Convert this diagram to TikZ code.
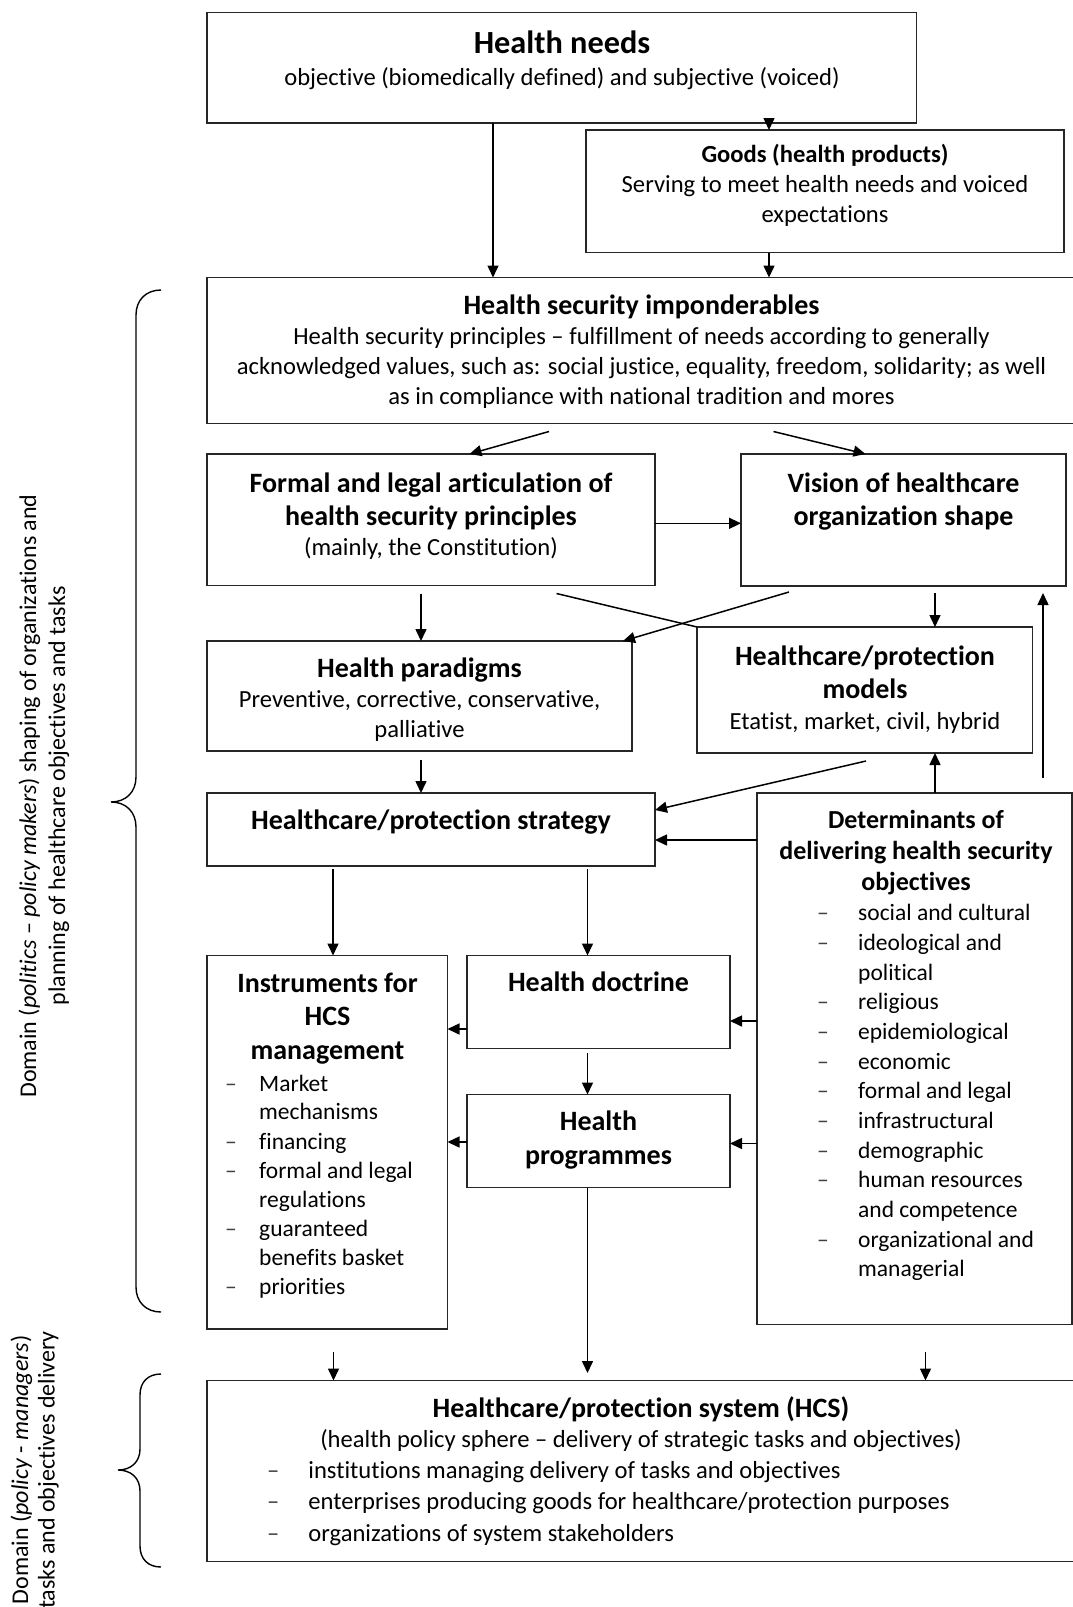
\documentclass[tikz,border=0pt]{standalone}
\usepackage{fontspec}
\setmainfont{Carlito}[Ligatures=NoCommon]
\usetikzlibrary{arrows.meta}
\begin{document}
\begin{tikzpicture}[x=1pt,y=-1pt,
  box/.style={draw=black!85, line width=1.8pt, inner sep=0pt, outer sep=0pt},
  arr/.style={draw=black, line width=1.5pt, -{Triangle[length=12pt,width=11pt]}},
  plain/.style={draw=black, line width=1.5pt},
  txt/.style={anchor=base, inner sep=0pt, font=\fontsize{24.6}{30}\selectfont},
  ttl/.style={anchor=base, inner sep=0pt, font=\fontsize{28}{34}\selectfont\bfseries},
  bul/.style={anchor=base west, inner sep=0pt, font=\fontsize{23.5}{29}\selectfont},
  dsh/.style={anchor=base, inner sep=0pt, font=\fontsize{23.5}{29}\selectfont, text=black!75},
  side/.style={anchor=base, inner sep=0pt, rotate=90, font=\fontsize{24}{30}\selectfont}]
\useasboundingbox (0,0) rectangle (1073,1607);
\fill[white] (0,0) rectangle (1073,1607);

% ---------- boxes ----------
\node[box, minimum width=709.5pt, minimum height=110.2pt] (needs) at (561.75,67.6) {};
\node[box, minimum width=478pt, minimum height=122.5pt] (goods) at (825,191.25) {};
\node[box, minimum width=869pt, minimum height=146pt] (sec) at (641.5,350.5) {};
\node[box, minimum width=448pt, minimum height=131.5pt] (formal) at (431,519.75) {};
\node[box, minimum width=325pt, minimum height=132pt] (vision) at (903.5,520) {};
\node[box, minimum width=425pt, minimum height=110pt] (parad) at (419.5,696) {};
\node[box, minimum width=335.5pt, minimum height=126pt] (models) at (864.75,690) {};
\node[box, minimum width=448pt, minimum height=73pt] (strat) at (431,829.5) {};
\node[box, minimum width=315pt, minimum height=531.5pt] (det) at (914.5,1058.75) {};
\node[box, minimum width=240.5pt, minimum height=373.5pt] (instr) at (327.25,1142.25) {};
\node[box, minimum width=263pt, minimum height=93pt] (doctr) at (598.5,1002) {};
\node[box, minimum width=263pt, minimum height=93pt] (progr) at (598.5,1141) {};
\node[box, minimum width=869pt, minimum height=181pt] (hcs) at (641.5,1471) {};

% ---------- texts ----------
\node[anchor=base, inner sep=0pt, font=\fontsize{32.3}{38}\selectfont\bfseries] (tneeds) at (562,53.5) {Health needs};
\node[txt] (tneeds2) at (562,85.5) {objective (biomedically defined) and subjective (voiced)};

\node[txt, font=\fontsize{24.6}{30}\selectfont\bfseries] (tgoods) at (825,162.5) {Goods (health products)};
\node[txt] (tgoods2) at (825,192) {Serving to meet health needs and voiced};
\node[txt] (tgoods3) at (825,222) {expectations};

\node[ttl] (tsec) at (641.5,314) {Health security imponderables};
\node[txt] (tsec2) at (641.5,344.5) {Health security principles \textendash{} fulfillment of needs according to generally};
\node[txt] (tsec3) at (641.5,374.5) {acknowledged values, such as: social justice, equality, freedom, solidarity; as well};
\node[txt] (tsec4) at (641.5,404.5) {as in compliance with national tradition and mores};

\node[ttl] (tform1) at (431,492) {Formal and legal articulation of};
\node[ttl] (tform2) at (431,525) {health security principles};
\node[txt] (tform3) at (431,555.5) {(mainly, the Constitution)};

\node[ttl] (tvis1) at (903.5,492) {Vision of healthcare};
\node[ttl] (tvis2) at (903.5,525) {organization shape};

\node[ttl] (tmod1) at (865,665) {Healthcare/protection};
\node[ttl] (tmod2) at (865,698) {models};
\node[txt] (tmod3) at (865,729) {Etatist, market, civil, hybrid};

\node[ttl] (tpar1) at (419.5,677.3) {Health paradigms};
\node[txt] (tpar2) at (419.5,707.7) {Preventive, corrective, conservative,};
\node[txt] (tpar3) at (419.5,737) {palliative};

\node[ttl] (tstrat) at (431,829.7) {Healthcare/protection strategy};

\node[anchor=base, inner sep=0pt, font=\fontsize{26}{32}\selectfont\bfseries] (tdet1) at (916,828) {Determinants of};
\node[anchor=base, inner sep=0pt, font=\fontsize{26}{32}\selectfont\bfseries] (tdet2) at (916,859.8) {delivering health security};
\node[anchor=base, inner sep=0pt, font=\fontsize{26}{32}\selectfont\bfseries] (tdet3) at (916,890.3) {objectives};

\node[dsh] (dd1) at (823,920.8) {\textendash};
\node[bul] (bd1) at (858,920.8) {social and cultural};
\node[dsh] (dd2) at (823,950.5) {\textendash};
\node[bul] (bd2) at (858,950.5) {ideological and};
\node[bul] (bd3) at (858,980.1) {political};
\node[dsh] (dd4) at (823,1009.8) {\textendash};
\node[bul] (bd4) at (858,1009.8) {religious};
\node[dsh] (dd5) at (823,1039.4) {\textendash};
\node[bul] (bd5) at (858,1039.4) {epidemiological};
\node[dsh] (dd6) at (823,1069.1) {\textendash};
\node[bul] (bd6) at (858,1069.1) {economic};
\node[dsh] (dd7) at (823,1098.7) {\textendash};
\node[bul] (bd7) at (858,1098.7) {formal and legal};
\node[dsh] (dd8) at (823,1128.4) {\textendash};
\node[bul] (bd8) at (858,1128.4) {infrastructural};
\node[dsh] (dd9) at (823,1158) {\textendash};
\node[bul] (bd9) at (858,1158) {demographic};
\node[dsh] (dd10) at (823,1187.7) {\textendash};
\node[bul] (bd10) at (858,1187.7) {human resources};
\node[bul] (bd11) at (858,1217.3) {and competence};
\node[dsh] (dd12) at (823,1247) {\textendash};
\node[bul] (bd12) at (858,1247) {organizational and};
\node[bul] (bd13) at (858,1276.6) {managerial};

\node[ttl] (tins1) at (327.5,992) {Instruments for};
\node[ttl] (tins2) at (327.5,1025.7) {HCS};
\node[ttl] (tins3) at (327.5,1059.7) {management};
\node[dsh] (di1) at (231,1091) {\textendash};
\node[bul] (bi1) at (259,1091) {Market};
\node[bul] (bi2) at (259,1119.5) {mechanisms};
\node[dsh] (di3) at (231,1149) {\textendash};
\node[bul] (bi3) at (259,1149) {financing};
\node[dsh] (di4) at (231,1178.5) {\textendash};
\node[bul] (bi4) at (259,1178.5) {formal and legal};
\node[bul] (bi5) at (259,1207) {regulations};
\node[dsh] (di6) at (231,1236.5) {\textendash};
\node[bul] (bi6) at (259,1236.5) {guaranteed};
\node[bul] (bi7) at (259,1265) {benefits basket};
\node[dsh] (di8) at (231,1294) {\textendash};
\node[bul] (bi8) at (259,1294) {priorities};

\node[ttl] (tdoc) at (598.5,991.7) {Health doctrine};
\node[ttl] (tpro1) at (598.5,1130.7) {Health};
\node[ttl] (tpro2) at (598.5,1164) {programmes};

\node[ttl] (thcs1) at (641,1417.3) {Healthcare/protection system (HCS)};
\node[txt] (thcs2) at (641,1447) {(health policy sphere \textendash{} delivery of strategic tasks and objectives)};
\node[dsh, font=\fontsize{24.6}{30}\selectfont] (dh1) at (273.3,1478.7) {\textendash};
\node[anchor=base west, inner sep=0pt, font=\fontsize{24.6}{30}\selectfont] (bh1) at (308.2,1478.7) {institutions managing delivery of tasks and objectives};
\node[dsh, font=\fontsize{24.6}{30}\selectfont] (dh2) at (273.3,1509.7) {\textendash};
\node[anchor=base west, inner sep=0pt, font=\fontsize{24.6}{30}\selectfont] (bh2) at (308.2,1509.7) {enterprises producing goods for healthcare/protection purposes};
\node[dsh, font=\fontsize{24.6}{30}\selectfont] (dh3) at (273.3,1541.3) {\textendash};
\node[anchor=base west, inner sep=0pt, font=\fontsize{24.6}{30}\selectfont] (bh3) at (308.2,1541.3) {organizations of system stakeholders};

% ---------- side labels ----------
\node[side] (side1) at (36,796) {Domain (\textit{politics} \textendash{} \textit{policy makers}) shaping of organizations and};
\node[side] (side2) at (65,796) {planning of healthcare objectives and tasks};
\node[side] (side3) at (28,1470) {Domain (\textit{policy} - \textit{managers})};
\node[side] (side4) at (54.5,1470) {tasks and objectives delivery};

% braces
\draw[line width=1.4pt] (161,290) .. controls (146,290) and (136,300) .. (136,315) -- (136,777)
  .. controls (136,792) and (126,802) .. (111,802) .. controls (126,802) and (136,812) .. (136,827)
  -- (136,1287) .. controls (136,1302) and (146,1312) .. (161,1312);
\draw[line width=1.4pt] (161,1374) .. controls (148,1374) and (140,1382) .. (140,1395) -- (140,1449)
  .. controls (140,1462) and (131,1470) .. (118,1470) .. controls (131,1470) and (140,1478) .. (140,1491)
  -- (140,1546) .. controls (140,1559) and (148,1567) .. (161,1567);

% ---------- connectors ----------
\draw[arr] (493,0 |- needs.south) -- (493,0 |- sec.north);
\draw[arr] (769,0 |- needs.south) -- (769,0 |- goods.north);
\draw[arr] (769,0 |- goods.south) -- (769,0 |- sec.north);
\coordinate (s1) at (549,431.5);
\coordinate (s2) at (773.5,431.5);
\draw[arr] (s1) -- (469.5,0 |- formal.north);
\draw[arr] (s2) -- (865.5,0 |- vision.north);
\draw[arr] (formal.east |- 0,523.3) -- (vision.west |- 0,523.3);
\coordinate (f1) at (556.5,593.5);
\draw[plain] (f1) -- (models.north west);
\coordinate (v1) at (789,592);
\draw[arr] (v1) -- (623,0 |- parad.north);
\coordinate (f2) at (421,594);
\draw[arr] (f2) -- (421,0 |- parad.north);
\coordinate (v2) at (935,593);
\draw[arr] (v2) -- (935,0 |- models.north);
\draw[arr] (935,0 |- det.north) -- (935,0 |- models.south);
\coordinate (dup) at (1043,778);
\coordinate (vup) at (1043,593);
\draw[arr] (dup) -- (vup);
\coordinate (m1) at (866,761);
\draw[arr] (m1) -- (strat.east |- 0,810);
\draw[arr] (det.west |- 0,840) -- (strat.east |- 0,840);
\coordinate (p1) at (421,760);
\draw[arr] (p1) -- (421,0 |- strat.north);
\coordinate (st1) at (333,869);
\draw[arr] (st1) -- (333,0 |- instr.north);
\coordinate (st2) at (587.5,869);
\draw[arr] (st2) -- (587.5,0 |- doctr.north);
\draw[arr] (doctr.west |- 0,1029) -- (instr.east |- 0,1029);
\coordinate (dc1) at (587.5,1053);
\draw[arr] (dc1) -- (587.5,0 |- progr.north);
\draw[arr] (progr.west |- 0,1142) -- (instr.east |- 0,1142);
\draw[arr] (det.west |- 0,1021) -- (doctr.east |- 0,1021);
\draw[arr] (det.west |- 0,1143.5) -- (progr.east |- 0,1143.5);
\coordinate (bl) at (333.5,1352);
\draw[arr] (bl) -- (333.5,0 |- hcs.north);
\coordinate (bm) at (587.5,1373);
\draw[arr] (587.5,0 |- progr.south) -- (bm);
\coordinate (br) at (925.5,1352);
\draw[arr] (br) -- (925.5,0 |- hcs.north);
\end{tikzpicture}
\end{document}
